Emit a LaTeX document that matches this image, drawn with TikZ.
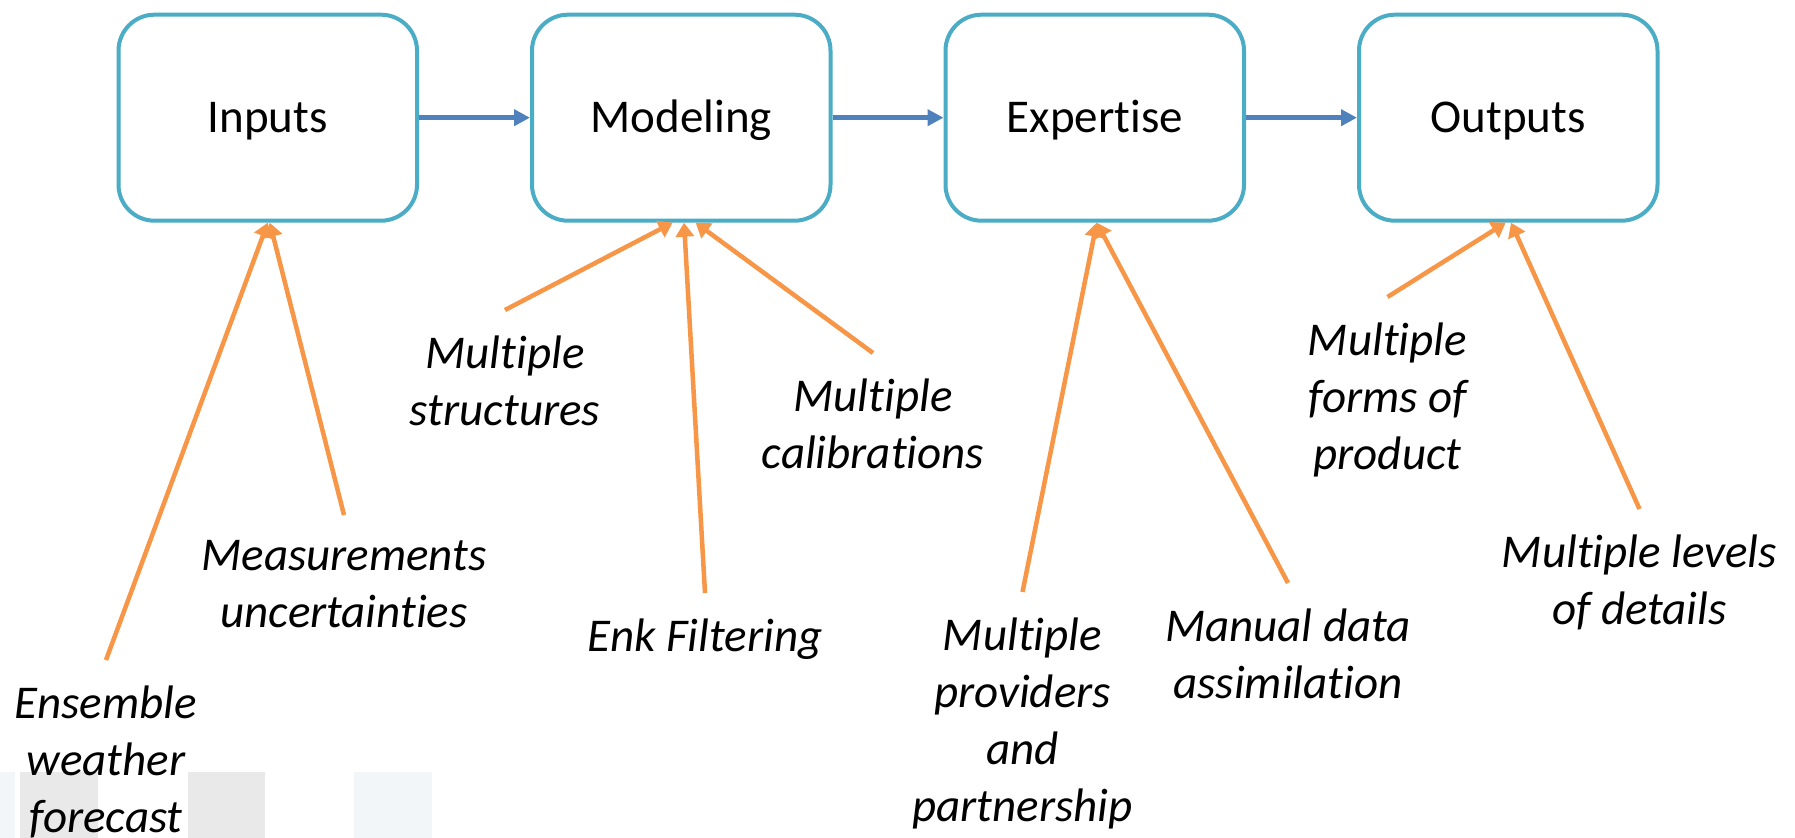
\documentclass[tikz,border=0pt]{standalone}
\usepackage{fontspec}
\setmainfont{Carlito}[Ligatures={NoCommon,NoRare,NoContextual}]
\usepackage{tikz}
\usetikzlibrary{ positioning, arrows.meta, calc }
\definecolor{stageborder}{RGB}{75,172,198}
\definecolor{flowblue}{RGB}{79,129,189}
\definecolor{feedorange}{RGB}{247,150,70}
\definecolor{tilegray}{RGB}{233,233,233}
\definecolor{tileblue}{RGB}{242,246,249}

\begin{document}
\begin{tikzpicture}[x=0.5pt, y=-0.5pt, font=\fontsize{23.5}{28.5}\selectfont,
stage/.style={rectangle, rounded corners=18pt, draw=stageborder, line width=2pt,
fill=white, minimum width=149.25pt, minimum height=103pt, align=center,
text height=17pt, text depth=2pt},
note/.style={align=center, font=\fontsize{23.5}{28.5}\selectfont\itshape, inner xsep=2pt, inner ysep=12.5pt},
flow/.style={-{Triangle[length=8pt,width=8pt]}, line width=2.5pt, draw=flowblue},
feed/.style={-{Triangle[length=7pt,width=9pt]}, line width=2.25pt, draw=feedorange}
]

% Page
\fill[white] (0,0) rectangle (1795,838);
\useasboundingbox (0,0) rectangle (1795,838);

% Tiles along the bottom edge
\fill[tileblue] (0,772) rectangle (15,838);
\fill[tilegray] (20,772) rectangle (98,838);
\fill[tilegray] (188,772) rectangle (265,838);
\fill[tileblue] (354,772) rectangle (432,838);

% Stages
\node[stage] (inputs) at (267.75,117.7) {Inputs};
\node[stage, right=55.5pt of inputs] (modeling) {Modeling};
\node[stage, right=55.5pt of modeling] (expertise) {Expertise};
\node[stage, right=55.5pt of expertise] (outputs) {Outputs};

% Flow between stages
\draw[flow] (inputs) -- (modeling);
\draw[flow] (modeling) -- (expertise);
\draw[flow] (expertise) -- (outputs);

% Inputs sources
\node[note, anchor=north] (ensemble) at (106,660) {Ensemble\\weather\\forecast};
\node[note, anchor=north] (measures) at (344,515) {Measurements\\uncertainties};

% Modeling sources
\node[note, anchor=north] (structures) at (505,310) {Multiple\\structures};
\node[note, anchor=north] (enk) at (705,593) {Enk Filtering};
\node[note, anchor=north] (calibrations) at (873,353) {Multiple\\calibrations};

% Expertise sources
\node[note, anchor=north] (providers) at (1022.5,592) {Multiple\\providers\\and\\partnership};
\node[note, anchor=north] (manual) at (1288,583) {Manual data\\assimilation};

% Outputs sources
\node[note, anchor=north] (forms) at (1387.5,297) {Multiple\\forms of\\product};
\node[note, anchor=north] (levels) at (1639.5,509) {Multiple levels\\of details};

% Arrows
\draw[feed] (ensemble.north) -- (inputs.south);
\draw[feed] (measures.north) -- ([xshift=1pt]inputs.south);
\draw[feed] (structures.north) -- ([xshift=-4.3pt]modeling.south);
\draw[feed] (enk.north) -- ([xshift=1.4pt]modeling.south);
\draw[feed] (calibrations.north) -- ([xshift=7.2pt]modeling.south);
\draw[feed] (providers.north) -- ([xshift=1pt]expertise.south);
\draw[feed] (manual.north) -- ([xshift=1pt]expertise.south);
\draw[feed] (forms.north) -- ([xshift=-1.3pt]outputs.south);
\draw[feed] (levels.north) -- ([xshift=1.4pt]outputs.south);

\end{tikzpicture}
\end{document}
